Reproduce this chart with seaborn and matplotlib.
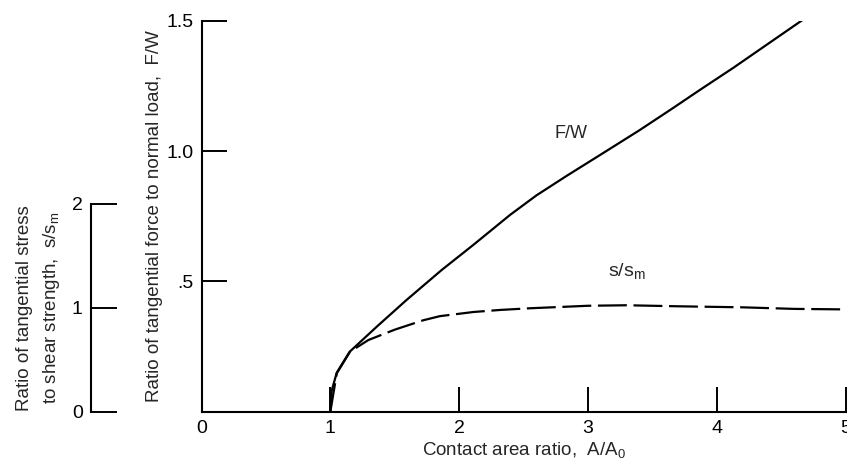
import matplotlib
matplotlib.use("Agg")
import matplotlib.pyplot as plt
import seaborn as sns

# F/W curve (main axis)
area_fw = [1.0, 1.01, 1.05, 1.15, 1.36, 1.59, 1.865, 2.11, 2.395, 2.6, 2.835,
           3.094, 3.4, 3.66, 3.87, 4.13, 4.73]
force_ratio = [0.0, 0.08, 0.15, 0.23, 0.326, 0.428, 0.544, 0.64, 0.755, 0.83, 0.905,
               0.985, 1.08, 1.165, 1.235, 1.32, 1.525]

# s/s_m curve (secondary axis)
area_s = [1.0, 1.05, 1.153, 1.295, 1.5, 1.72, 1.85, 2.11, 2.32, 2.55, 3.0, 3.3,
          3.7, 4.2, 4.6, 5.0]
stress_ratio = [0.0, 0.37, 0.578, 0.69, 0.79, 0.88, 0.92, 0.96, 0.98, 0.996, 1.02,
                1.025, 1.015, 1.005, 0.99, 0.985]

x_ticks = [0, 1, 2, 3, 4, 5]
y_ticks = [0, 0.5, 1.0, 1.5]
y_tick_labels = ["", ".5", "1.0", "1.5"]
s_ticks = [0, 1, 2]

sns.set_style("ticks")
plt.rcParams["font.family"] = ["Liberation Sans", "DejaVu Sans"]

fig = plt.figure(figsize=(8.47, 4.70), dpi=100)
ax = fig.add_axes([201.5 / 847, 58.3 / 470, 644.2 / 847, 391 / 470])

sns.lineplot(x=area_fw, y=force_ratio, ax=ax, color="black", linewidth=1.6)
ax.set_xlim(0, 5)
ax.set_ylim(0, 1.5)
ax.set_xticks(x_ticks)
ax.set_yticks(y_ticks)
ax.set_yticklabels(y_tick_labels)
ax.tick_params(axis="both", direction="in", length=18, width=1.4, pad=6,
               labelsize=14, color="black", labelcolor="black")
for side in ["top", "right"]:
    ax.spines[side].set_visible(False)
for side in ["left", "bottom"]:
    ax.spines[side].set_linewidth(1.5)
    ax.spines[side].set_color("black")
ax.set_xlabel(r"Contact area ratio,  A/A$\mathregular{_0}$", fontsize=13.5, labelpad=2)
ax.set_ylabel("Ratio of tangential force to normal load,  F/W", fontsize=13.5, labelpad=2)

# secondary scale on the far left
ax2 = ax.twinx()
sns.lineplot(x=area_s, y=stress_ratio, ax=ax2, color="black", linewidth=1.6)
ax2.lines[-1].set_dashes((13, 3))
ax2.set_ylim(0, 391 / 103.85)
ax2.set_yticks(s_ticks)
ax2.yaxis.set_ticks_position("left")
ax2.yaxis.set_label_position("left")
for side in ["top", "right", "bottom"]:
    ax2.spines[side].set_visible(False)
ax2.spines["left"].set_visible(True)
ax2.spines["left"].set_position(("outward", 79.5))
ax2.spines["left"].set_bounds(0, 2)
ax2.spines["left"].set_linewidth(1.5)
ax2.spines["left"].set_color("black")
ax2.tick_params(axis="y", direction="in", length=19, width=1.4, pad=6,
                labelsize=14, color="black", labelcolor="black")
ax2.set_ylabel("Ratio of tangential stress\nto shear strength,  " + r"$\mathregular{s/s_m}$",
               fontsize=13.5, linespacing=1.5)
ax2.yaxis.set_label_coords(-0.2166, 1.0 / (391 / 103.85))

ax.text(2.87, 1.068, "F/W", fontsize=13, ha="center", va="center")
ax.text(3.3, 0.54, r"$\mathregular{s/s_m}$", fontsize=14, ha="center", va="center")

fig.savefig("out.png", dpi=100)
